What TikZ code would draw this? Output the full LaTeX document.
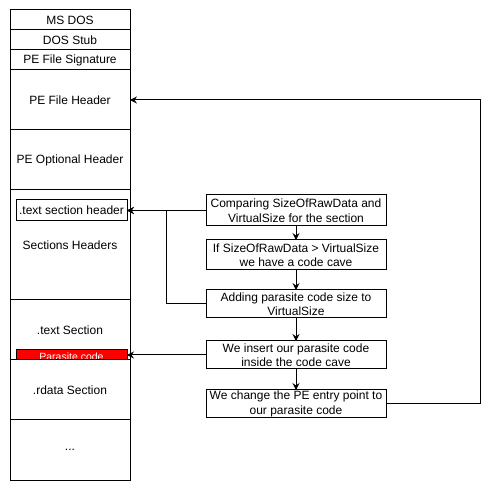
\documentclass[tikz,border=0pt]{standalone}
\usepackage{fontspec}
\setmainfont{Liberation Sans}
\usetikzlibrary{arrows.meta}
\begin{document}
\begin{tikzpicture}[x=1pt,y=-1pt,
  every node/.style={inner sep=0pt,outer sep=0pt,font=\fontsize{12}{14.5}\selectfont},
  col/.style={draw,line width=1pt,fill=white,minimum width=120pt,align=center},
  stepbox/.style={draw,line width=1pt,fill=white,minimum width=180pt,align=center},
  arr/.style={line width=1pt,-{Stealth[length=7pt,width=7pt,inset=2.5pt]}},
  ln/.style={line width=1pt}]
\useasboundingbox (0,0) rectangle (499,492);
% left column
\node[col,minimum height=20pt] (msdos) at (70,20) {MS DOS};
\node[col,minimum height=20pt] (stub) at (70,40) {DOS Stub};
\node[col,minimum height=20pt] (sig) at (70,60) {PE File Signature};
\node[col,minimum height=60pt] (pfh) at (70,100) {PE File Header};
\node[col,minimum height=60pt] (poh) at (70,160) {PE Optional Header};
\node[col,minimum height=110pt] (sh) at (70,245) {Sections Headers};
\node[draw,line width=1pt,fill=white,minimum width=111pt,minimum height=21pt] (tsh) at (71.5,210.5) {.text section header};
\node[col,minimum height=60pt] (tsec) at (70,330) {.text Section};
\node[draw,line width=1pt,fill=red,minimum width=111pt,minimum height=10pt] (par) at (71.5,355) {};
\node[text=white,font=\fontsize{10.5}{12}\selectfont] (parl) at (71.5,356.5) {Parasite code};
\node[col,minimum height=60pt] (rdata) at (70,390) {.rdata Section};
\node[col,minimum height=60pt] (dots) at (70,450) {...};
% right flow
\node[stepbox,minimum height=31pt] (b1) at (296,210.5) {Comparing SizeOfRawData and\\VirtualSize for the section};
\node[stepbox,minimum height=30pt] (b2) at (296,255) {If SizeOfRawData > VirtualSize\\we have a code cave};
\node[stepbox,minimum height=28pt] (b3) at (296,304) {Adding parasite code size to\\VirtualSize};
\node[stepbox,minimum height=28pt] (b4) at (296,355) {We insert our parasite code\\inside the code cave};
\node[stepbox,minimum height=28pt] (b5) at (296,404) {We change the PE entry point to\\our parasite code};
\coordinate (j) at (166,210.5);
\coordinate (r) at (480,100);
% connectors
\draw[arr] (b1.west) -- (tsh.east);
\draw[arr] (b3.west) -- (b3.west -| j) |- (tsh.east);
\draw[arr] (b4.west) -- (par.east);
\draw[arr] (b5.east) -- (b5.east -| r) |- (pfh.east);
\draw[arr] (b1.south) -- (b2.north);
\draw[arr] (b2.south) -- (b3.north);
\draw[arr] (b3.south) -- (b4.north);
\draw[arr] (b4.south) -- (b5.north);
\end{tikzpicture}
\end{document}
